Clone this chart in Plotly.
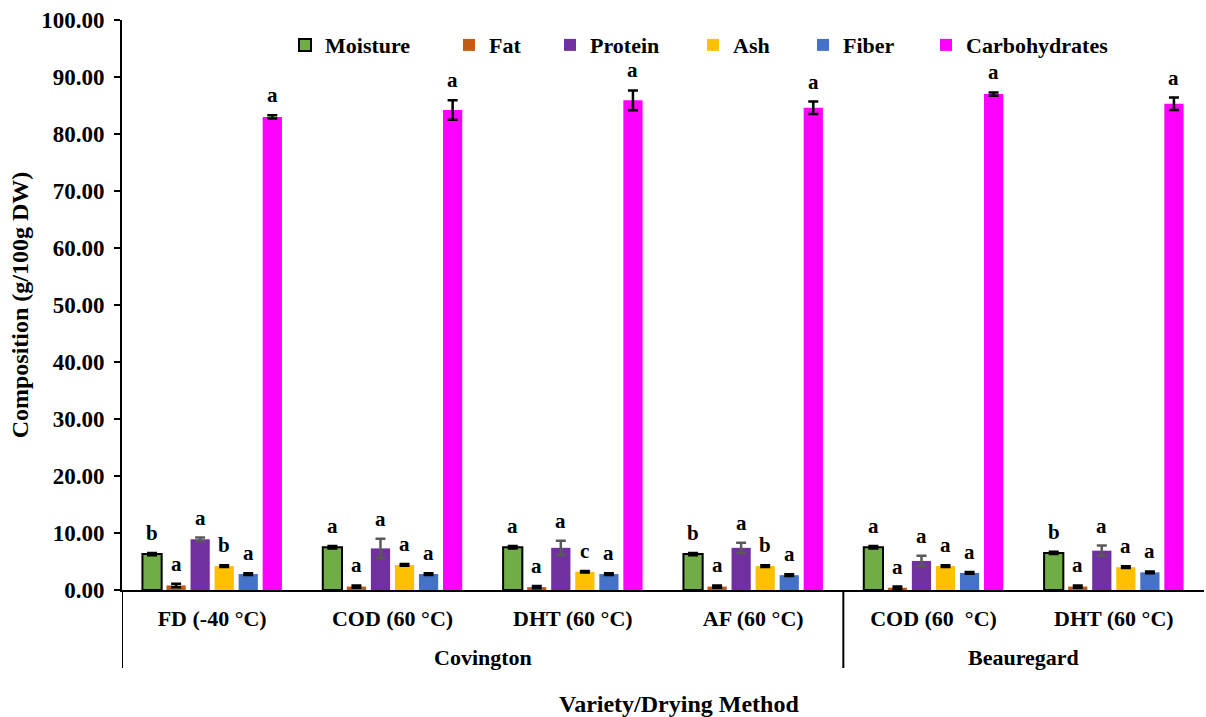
import plotly.graph_objects as go

# Drying methods (inner level) and sweet potato varieties (outer level)
methods = ["FD (-40 °C)", "COD (60 °C)", "DHT (60 °C)", "AF (60 °C)", "COD (60\u00a0 °C)", "DHT (60 °C)"]
varieties = ["Covington", "Covington", "Covington", "Covington", "Beauregard", "Beauregard"]

# Proximate composition, g/100 g dry weight (mean and SD)
moisture = [6.3, 7.5, 7.5, 6.3, 7.5, 6.5]
moisture_sd = [0.2, 0.2, 0.2, 0.2, 0.2, 0.2]
fat = [0.8, 0.6, 0.5, 0.6, 0.4, 0.6]
fat_sd = [0.3, 0.2, 0.2, 0.2, 0.2, 0.2]
protein = [8.9, 7.3, 7.4, 7.4, 5.1, 6.9]
protein_sd = [0.3, 1.7, 1.25, 0.9, 0.9, 0.9]
ash = [4.2, 4.4, 3.2, 4.2, 4.2, 4.0]
ash_sd = [0.15, 0.15, 0.15, 0.15, 0.15, 0.15]
fiber = [2.8, 2.8, 2.8, 2.6, 3.0, 3.1]
fiber_sd = [0.15, 0.15, 0.15, 0.15, 0.15, 0.15]
carbs = [83.0, 84.2, 85.9, 84.6, 87.0, 85.3]
carbs_sd = [0.3, 1.7, 1.75, 1.1, 0.3, 1.1]

# Significance letters
moisture_sig = ["b", "a", "a", "b", "a", "b"]
fat_sig = ["a", "a", "a", "a", "a", "a"]
protein_sig = ["a", "a", "a", "a", "a", "a"]
ash_sig = ["b", "a", "c", "b", "a", "a"]
fiber_sig = ["a", "a", "a", "a", "a", "a"]
carbs_sig = ["a", "a", "a", "a", "a", "a"]

FONT = "Liberation Serif"
BARGAP = 0.2
W, H = 1206, 717
ML, MR, MT, MB = 122, 2, 20, 127
PLOT_W = W - ML - MR
PLOT_H = H - MT - MB

series = [
    ("Moisture", moisture, moisture_sd, moisture_sig, "#70AD47", "black", 2, "black"),
    ("Fat", fat, fat_sd, fat_sig, "#C55A11", "#C55A11", 0, "black"),
    ("Protein", protein, protein_sd, protein_sig, "#7030A0", "#7030A0", 0, "#595959"),
    ("Ash", ash, ash_sd, ash_sig, "#FFC000", "#FFC000", 0, "black"),
    ("Fiber", fiber, fiber_sd, fiber_sig, "#4472C4", "#4472C4", 0, "black"),
    ("Carbohydrates", carbs, carbs_sd, carbs_sig, "#FF00FF", "#FF00FF", 0, "black"),
]

# left edge (px) of each legend entry, laid out as a single row above the bars
legend_left_px = [285, 449, 550, 693, 803, 926]

idx = list(range(len(methods)))
fig = go.Figure()
annotations = []
n = len(series)
slot = (1 - BARGAP) / n
legends = {}
for j, (name, vals, sd, sig, color, lcolor, lw, ecolor) in enumerate(series):
    lname = "legend" if j == 0 else f"legend{j + 1}"
    legends[lname] = dict(
        orientation="h", x=(legend_left_px[j] - ML) / PLOT_W, y=0.956,
        xanchor="left", yanchor="middle", bgcolor="rgba(0,0,0,0)",
        font=dict(family=FONT, size=22, color="black", weight="bold"),
        itemclick=False, itemdoubleclick=False,
    )
    fig.add_trace(go.Bar(
        name=name, x=idx, y=vals, legend=lname,
        marker=dict(color=color, line=dict(color=lcolor, width=lw)),
        error_y=dict(type="data", array=sd, visible=True, color=ecolor,
                     thickness=2.5, width=5),
    ))
    for i, (v, s, letter) in enumerate(zip(vals, sd, sig)):
        annotations.append(dict(
            x=i + (j - (n - 1) / 2) * slot, y=v + s, xref="x", yref="y",
            text=letter, showarrow=False, yanchor="bottom", yshift=6,
            font=dict(family=FONT, size=21, color="black"),
        ))

# Variety labels centred under their drying methods, with divider lines
divider_depth = 78 / PLOT_H
shapes = []
groups = []
for i, v in enumerate(varieties):
    if not groups or groups[-1][0] != v:
        groups.append([v, i, i])
    else:
        groups[-1][2] = i
for v, first, last in groups:
    annotations.append(dict(
        x=(first + last) / 2, y=0, xref="x", yref="paper",
        text=v, showarrow=False, yanchor="middle", yshift=-67,
        font=dict(family=FONT, size=22, color="black", weight="bold"),
    ))
    shapes.append(dict(
        type="line", xref="x", yref="paper", x0=first - 0.5, x1=first - 0.5,
        y0=0, y1=-divider_depth, line=dict(color="black", width=2),
    ))

# x-axis title
annotations.append(dict(
    x=0.515, y=0, xref="paper", yref="paper", text="Variety/Drying Method",
    showarrow=False, yanchor="middle", yshift=-114,
    font=dict(family=FONT, size=24, color="black", weight="bold"),
))

fig.update_layout(
    width=W, height=H,
    margin=dict(l=ML, r=MR, t=MT, b=MB, autoexpand=False),
    paper_bgcolor="white", plot_bgcolor="white",
    barmode="group", bargap=BARGAP, bargroupgap=0.2,
    font=dict(family=FONT, size=22, color="black", weight="bold"),
    annotations=annotations,
    shapes=shapes,
    showlegend=True,
    yaxis=dict(
        range=[0, 100], dtick=10, tickformat=".2f",
        ticks="outside", ticklen=6, tickwidth=2, tickcolor="black",
        ticklabelstandoff=5,
        showline=True, linewidth=2, linecolor="black",
        showgrid=False, zeroline=False,
        tickfont=dict(family=FONT, size=23, weight="bold"),
        title=dict(text="Composition (g/100g DW)", standoff=6,
                   font=dict(family=FONT, size=24, weight="bold")),
    ),
    xaxis=dict(
        range=[-0.5, len(methods) - 0.5],
        tickmode="array", tickvals=idx, ticktext=methods,
        showline=True, linewidth=2, linecolor="black",
        ticks="", showgrid=False, zeroline=False, ticklabelstandoff=8,
        tickfont=dict(family=FONT, size=22, weight="bold"),
    ),
)
fig.update_layout(**legends)

fig.write_html("out.html")
